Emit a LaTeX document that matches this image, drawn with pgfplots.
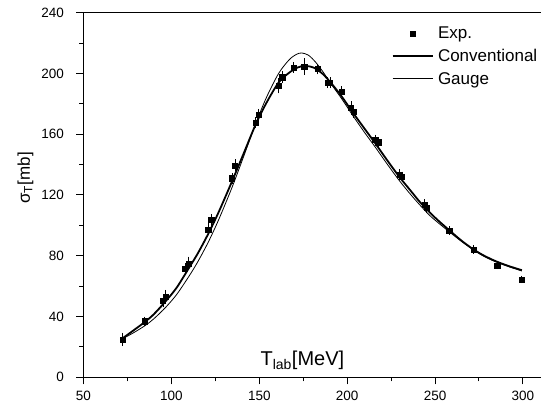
\documentclass[border=0pt]{standalone}
\usepackage{fontspec}
\setmainfont{Liberation Sans}
\usepackage{pgfplots}
\usepackage{pgfplotstable}
\pgfplotsset{compat=1.18}
\pgfplotsset{
  mylegline/.style={legend image code/.code={\draw[##1] (0bp,0bp) -- (40bp,0bp);}},
  mylegmark/.style={legend image code/.code={\draw[mark repeat=2,mark phase=2,##1] plot coordinates {(0bp,0bp) (20bp,0bp) (40bp,0bp)};}},
}

\pgfplotstableread{
x y e
72.4 25.0 2.5
84.8 36.9 1.0
95.2 50.2 2.0
96.7 53.1 2.5
107.8 71.5 1.5
109.7 75.0 2.5
121.0 97.4 2.0
122.7 103.6 2.0
134.5 131.0 1.5
136.2 139.5 2.0
147.8 167.6 1.5
149.7 172.7 2.0
161.1 191.8 3.0
163.0 197.5 2.0
169.7 203.8 1.5
175.6 204.5 3.5
183.2 202.9 1.5
188.9 193.9 1.5
190.2 193.9 1.5
196.8 188.0 1.5
202.2 177.7 2.0
203.5 174.6 2.0
216.0 156.2 1.5
217.7 154.7 1.5
229.7 133.4 1.5
231.2 131.9 1.5
243.9 113.6 1.5
245.1 111.9 1.5
258.0 96.5 1.0
271.9 84.2 1.0
285.4 73.7 0.5
299.4 64.5 0.5
}\expdata

\pgfplotstableread{
x y
72.4 25.8
78 30.5
85 36.5
90 41.5
96.7 50
103 59
110 72
115 81.5
121 94.5
127 109
134.5 129
141 147
147.8 166
154 180.5
161 194
167 200.5
172 204
176 205
181 203.8
186 199.8
191 193.5
196.8 185
203.4 174
210 163.5
216 154
223 142.5
230 131.5
236 123
241.3 115.5
247 108.5
252 103
258.4 96.5
265 90
271.7 84.3
278 80
285 76.2
292 73.2
299.4 70.5
}\conventional

\pgfplotstableread{
x y
72.4 25.5
78 29
85 34
90 38.5
96.7 46
103 54.5
110 66.5
115 76
121 89
127 104
134.5 125
141 145
147.8 166.5
154 184
161 200
167 209
171 212.5
174.1 213.5
178 212
182 207.5
186.3 201
190 194.5
196.8 183.5
203.4 172
210 161
216 151.5
223 140
230 129
236 120.5
241.3 113.5
247 106.5
252 101.5
258.4 95.5
265 89.5
271.7 84
278 79.5
285 75.8
292 72.8
299.4 70
}\gauge

\begin{document}
\begin{tikzpicture}
\begin{axis}[
  scale only axis, width=457bp, height=364.6bp,
  xmin=50, xmax=310, ymin=0, ymax=240,
  axis x line*=box, axis y line*=left,
  xtick={50,100,...,300}, ytick={0,40,...,240},
  minor x tick num=1, minor y tick num=1,
  xtick pos=left, ytick pos=left,
  tick align=outside,
  major tick length=7bp, minor tick length=4bp,
  every tick/.style={black, line width=1bp},
  axis line style={line width=1.2bp},
  tick label style={font=\fontsize{13.5bp}{15bp}\selectfont},
  /pgf/number format/assume math mode=true,
  xticklabel style={yshift=-3bp},
  yticklabel style={xshift=-9bp},
  xlabel={T\textsubscript{lab}[MeV]},
  xlabel style={at={(axis description cs:0.479,0.031)}, anchor=base, font=\fontsize{20bp}{24bp}\selectfont},
  ylabel={σ\textsubscript{T}[mb]},
  ylabel style={at={(axis description cs:-0.127,0.547)}, anchor=center, font=\fontsize{17bp}{20bp}\selectfont},
  legend style={at={(axis description cs:0.674,0.965)}, anchor=north west, draw=none, fill=none,
    font=\fontsize{17bp}{20bp}\selectfont, inner sep=0pt, row sep=6bp, column sep=3bp,
    nodes={inner sep=1.5bp}},
  legend cell align=left,
]
\addplot[only marks, mark=square*, mark size=2.6bp, black, mylegmark,
  error bars/.cd, y dir=both, y explicit,
  error bar style={line width=0.8bp, black},
  error mark options={mark size=3bp, line width=0.8bp, black},
  ]
  table[x=x, y=y, y error=e] {\expdata};
\addplot[black, line width=1.8bp, smooth, mylegline] table[x=x,y=y] {\conventional};
\addplot[black, line width=0.8bp, smooth, mylegline] table[x=x,y=y] {\gauge};
\legend{Exp.,Conventional,Gauge}
\end{axis}
\pgfresetboundingbox
\path[use as bounding box] (-83.5bp,-29.7bp) rectangle (458.5bp,377.3bp);
\end{tikzpicture}
\end{document}
